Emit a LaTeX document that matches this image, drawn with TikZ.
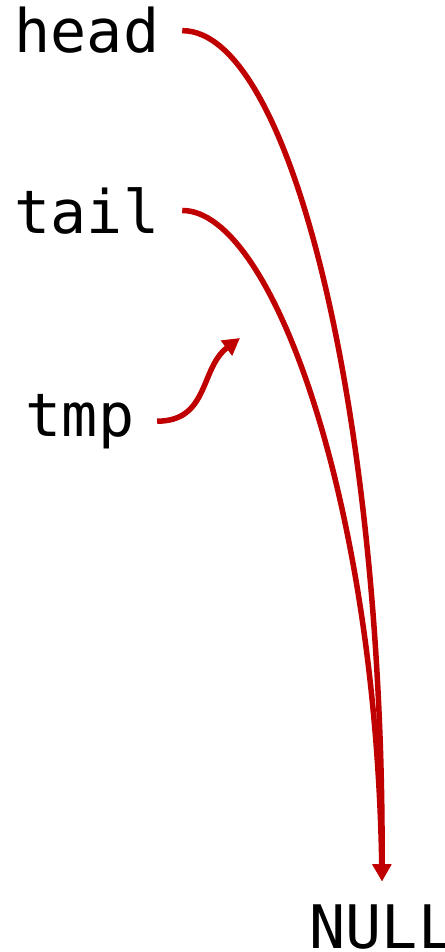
\documentclass[tikz,border=0pt]{standalone}
\usepackage{fontspec}
\usetikzlibrary{arrows.meta}
\newfontfamily\codefont{DejaVu Sans Mono}
\definecolor{ptrred}{HTML}{C00000}
\tikzset{
  var/.style={font=\codefont\fontsize{60}{64}\selectfont, inner sep=0pt,
    outer sep=23pt, anchor=base},
  ptr/.style={-{Triangle[length=17pt,width=18pt]}, line width=5.5pt, ptrred}
}

\begin{document}
\begin{tikzpicture}[x=1pt,y=-1pt]
  \useasboundingbox (0,0) rectangle (444,952);
  \node[var] (head) at (87,53) {head};
  \node[var] (tail) at (87,233) {tail};
  \node[var] (tmp) at (80,436) {tmp};
  \node[var] (null) at (382,948) {NULL};
  \coordinate (tmpto) at (240,338);

  \draw[ptr] (head.east) .. controls +(110,0) and +(2,-460) .. (null.north);
  \draw[ptr] (tail.east) .. controls +(90,0) and +(-6,-378) .. (null.north);
  \draw[ptr] (tmp.east) .. controls +(52,0) and +(-40,30) .. (tmpto);
\end{tikzpicture}
\end{document}
